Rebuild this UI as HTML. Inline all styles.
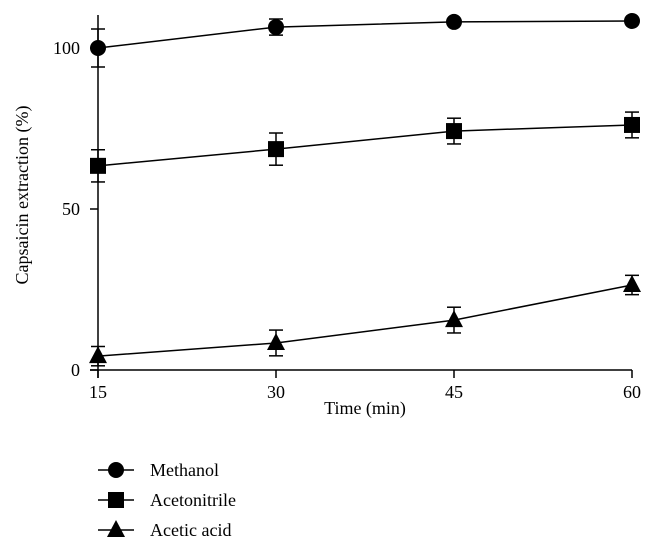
<!DOCTYPE html>
<html><head><meta charset="utf-8"><style>
body{margin:0;background:#fff}
svg text{font-family:"Liberation Serif",serif;fill:#000}
</style></head><body>
<svg id="chart" width="656" height="552" viewBox="0 0 656 552" xmlns="http://www.w3.org/2000/svg"></svg>
<script>
const times=[15,30,45,60];
const methanol=[100,106.5,108.1,108.4];
const methanolErr=[5.9,2.5,0,0];
const acetonitrile=[63.4,68.6,74.2,76.1];
const acetonitrileErr=[5,5,4,4];
const aceticAcid=[4.3,8.4,15.5,26.4];
const aceticAcidErr=[3,4,4,3];
const xTicks=[15,30,45,60];
const yTicks=[0,50,100];

const NS="http://www.w3.org/2000/svg";
const svg=document.getElementById('chart');
const X=t=>98+(t-15)*178/15;
const Y=v=>370-v*3.22;
function mk(tag,attrs,parent){const e=document.createElementNS(NS,tag);for(const k in attrs)e.setAttribute(k,attrs[k]);(parent||svg).appendChild(e);return e;}

let ax=mk('line',{x1:98,y1:15,x2:98,y2:378,stroke:'#000','stroke-width':1.5});


ax=mk('line',{x1:90,y1:370,x2:632,y2:370,stroke:'#000','stroke-width':1.5});


yTicks.forEach(v=>{
  mk('line',{x1:90,y1:Y(v),x2:98,y2:Y(v),stroke:'#000','stroke-width':1.5});
  const t=mk('text',{x:80,y:Y(v)+6,'text-anchor':'end','font-size':18});t.textContent=v;
  
  
});
xTicks.forEach(v=>{
  mk('line',{x1:X(v),y1:370,x2:X(v),y2:378,stroke:'#000','stroke-width':1.5});
  const t=mk('text',{x:X(v),y:398,'text-anchor':'middle','font-size':18});t.textContent=v;
  
  
});
let tt=mk('text',{x:365,y:414,'text-anchor':'middle','font-size':18});tt.textContent='Time (min)';


tt=mk('text',{x:0,y:0,'text-anchor':'middle','font-size':18,transform:'translate(28,195) rotate(-90)'});tt.textContent='Capsaicin extraction (%)';



function marker(shape,x,y,g){
  if(shape==='circle')return mk('circle',{cx:x,cy:y,r:8,fill:'#000'},g);
  if(shape==='square')return mk('rect',{x:x-8,y:y-8,width:16,height:16,fill:'#000'},g);
  return mk('polygon',{points:`${x},${y-10} ${x+9},${y+7} ${x-9},${y+7}`,fill:'#000'},g);
}
function series(name,vals,errs,shape){
  const g=mk('g',{});
  
  
  mk('polyline',{points:times.map((t,i)=>X(t)+','+Y(vals[i])).join(' '),fill:'none',stroke:'#000','stroke-width':1.5},g);
  times.forEach((t,i)=>{
    const x=X(t),e=errs[i];
    if(e>0){
      mk('line',{x1:x,y1:Y(vals[i]+e),x2:x,y2:Y(vals[i]-e),stroke:'#000','stroke-width':1.5},g);
      mk('line',{x1:x-7,y1:Y(vals[i]+e),x2:x+7,y2:Y(vals[i]+e),stroke:'#000','stroke-width':1.5},g);
      mk('line',{x1:x-7,y1:Y(vals[i]-e),x2:x+7,y2:Y(vals[i]-e),stroke:'#000','stroke-width':1.5},g);
    }
    const m=marker(shape,x,Y(vals[i]),g);
    
    
  });
}
series('methanol',methanol,methanolErr,'circle');
series('acetonitrile',acetonitrile,acetonitrileErr,'square');
series('acetic-acid',aceticAcid,aceticAcidErr,'triangle');

const legend=[['Methanol','circle',470],['Acetonitrile','square',500],['Acetic acid','triangle',530]];
legend.forEach(([lab,shape,y])=>{
  const g=mk('g',{});
  
  
  mk('line',{x1:98,y1:y,x2:134,y2:y,stroke:'#000','stroke-width':1.5},g);
  marker(shape,116,y,g);
  const t=mk('text',{x:150,y:y+6,'font-size':18},g);t.textContent=lab;
});
</script>
</body></html>
